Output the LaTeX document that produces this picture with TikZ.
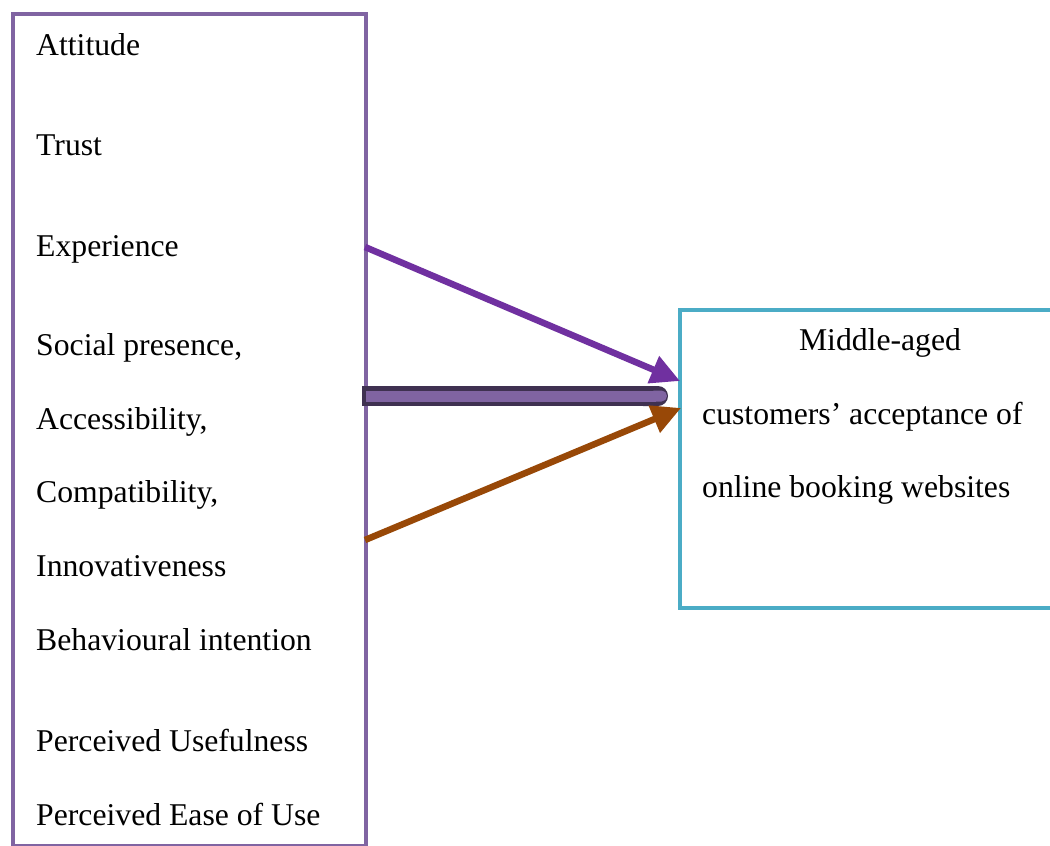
\documentclass[tikz,border=0pt]{standalone}
\usepackage{fontspec}
\setmainfont{Liberation Serif}
\usetikzlibrary{arrows.meta}
\definecolor{boxviolet}{HTML}{8064A2}
\definecolor{arrowpurple}{HTML}{7030A0}
\definecolor{darkviolet}{HTML}{3F3151}
\definecolor{arrowbrown}{HTML}{984807}
\definecolor{boxcyan}{HTML}{4BACC6}
\tikzset{
  factorbox/.style={draw=boxviolet, line width=4pt, rectangle, inner sep=0pt, outer sep=0pt, anchor=north west},
  outcomebox/.style={draw=boxcyan, line width=4pt, rectangle, inner sep=0pt, outer sep=0pt, anchor=north west},
  label text/.style={font=\fontsize{31.7}{36}\selectfont, inner sep=0pt, anchor=base west, text=black},
  thin arrow/.style={line width=6.5pt, -{Triangle[length=29pt,width=28pt]}},
  band outer/.style={line width=20pt, darkviolet, -{Round Cap}},
  band inner/.style={line width=11pt, boxviolet, -{Round Cap}},
}
\begin{document}
\begin{tikzpicture}[x=1pt,y=-1pt]
\useasboundingbox (0,0) rectangle (1050,846);
\clip (0,0) rectangle (1050,846);
\fill[white] (0,0) rectangle (1050,846);

% boxes
\node[factorbox, minimum width=353pt, minimum height=832pt] (factors) at (13,14) {};
\node[outcomebox, minimum width=400pt, minimum height=298pt] (outcome) at (680,310) {};

% factor list
\node[label text] (t1) at (36,55) {Attitude};
\node[label text] (t2) at (36,155) {Trust};
\node[label text] (t3) at (36,256) {Experience};
\node[label text] (t4) at (36,355) {Social presence,};
\node[label text] (t5) at (36,429) {Accessibility,};
\node[label text] (t6) at (36,502) {Compatibility,};
\node[label text] (t7) at (36,576) {Innovativeness};
\node[label text] (t8) at (36,650) {Behavioural intention};
\node[label text] (t9) at (36,751) {Perceived Usefulness};
\node[label text] (t10) at (36,825) {Perceived Ease of Use};

% outcome text
\node[label text, anchor=base] (o1) at (880,350) {Middle-aged};
\node[label text] (o2) at (702,424) {customers’ acceptance of};
\node[label text] (o3) at (702,497) {online booking websites};

% connector end points on the box edges
\coordinate (s1) at (365,247);
\coordinate (e1) at (680,381);
\coordinate (s2) at (362,396);
\coordinate (e2) at (668,396);
\coordinate (s2i) at (366,396);
\coordinate (e2i) at (667,396);
\coordinate (s3) at (365,540);
\coordinate (e3) at (681,408);

% connectors
\draw[thin arrow, arrowpurple] (s1) -- (e1);
\draw[band outer] (s2) -- (e2);
\draw[band inner] (s2i) -- (e2i);
\draw[thin arrow, arrowbrown] (s3) -- (e3);
\end{tikzpicture}
\end{document}
